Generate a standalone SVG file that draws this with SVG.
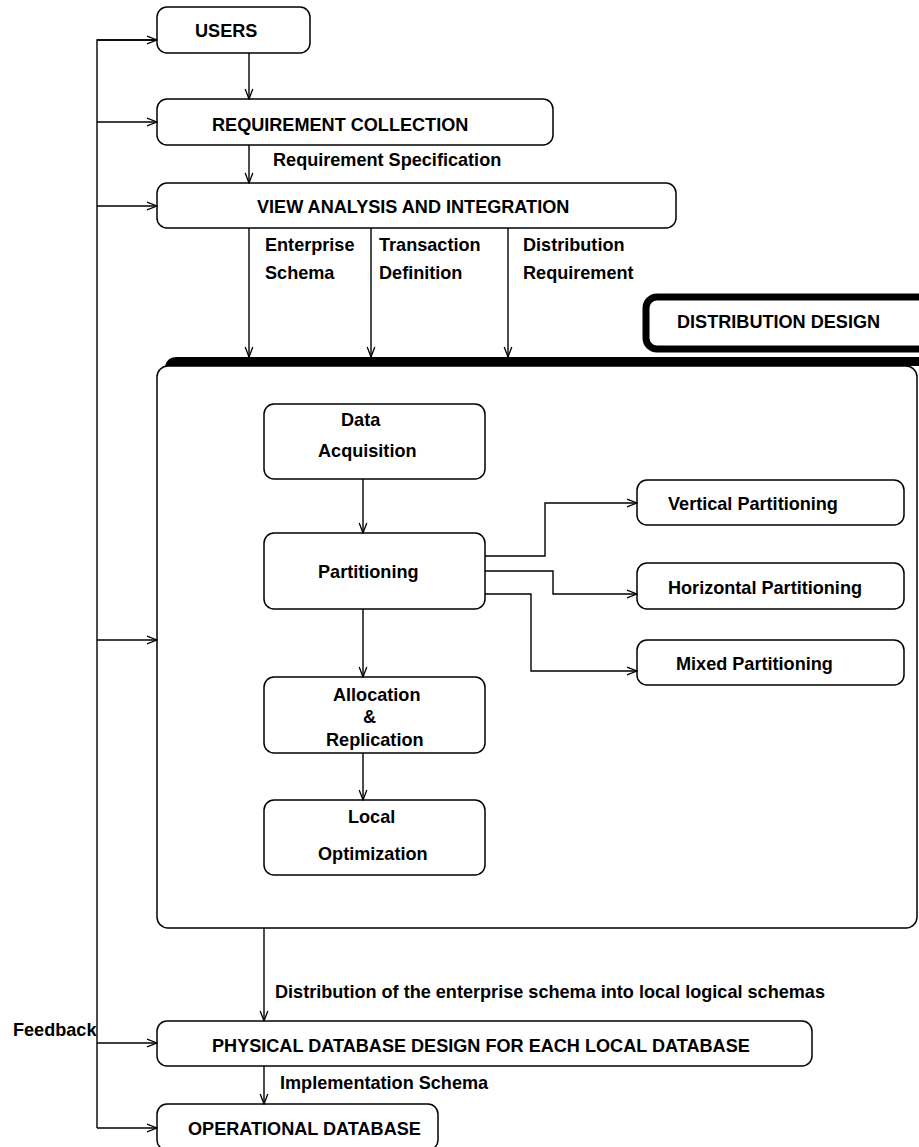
<svg xmlns="http://www.w3.org/2000/svg" width="919" height="1147" viewBox="0 0 919 1147">
<defs>
<marker id="arr" markerUnits="userSpaceOnUse" markerWidth="12" markerHeight="10" refX="11" refY="5" orient="auto">
<path d="M1,1.2 L11,5 L1,8.8" fill="none" stroke="#000" stroke-width="1.3"/>
</marker>
<style>
.box{fill:#fff;stroke:#000;stroke-width:1.5}
.t{font-family:"Liberation Sans",Arial,sans-serif;font-weight:bold;font-size:18.1px;fill:#000}
.c{fill:none;stroke:#000;stroke-width:1.4}
</style>
</defs>
<rect width="919" height="1147" fill="#fff"/>

<g id="distribution-design-frame">
<path d="M165,366 Q167,357 177,357 L919,357 L919,366 Z" fill="#000"/>
<rect class="box" x="157" y="366" width="760" height="562" rx="11"/>
</g>
<g id="distribution-design-label">
<rect x="646" y="297" width="300" height="52" rx="11" fill="#fff" stroke="#000" stroke-width="7"/>
<text class="t" x="677" y="328">DISTRIBUTION DESIGN</text>
</g>

<g id="users"><rect class="box" x="157" y="7" width="153" height="46" rx="10"/><text class="t" x="195" y="37">USERS</text></g>
<g id="requirement-collection"><rect class="box" x="157" y="99" width="396" height="46" rx="10"/><text class="t" x="212" y="131">REQUIREMENT COLLECTION</text></g>
<g id="view-analysis"><rect class="box" x="157" y="183" width="519" height="45" rx="10"/><text class="t" x="257" y="213">VIEW ANALYSIS AND INTEGRATION</text></g>

<g id="data-acquisition"><rect class="box" x="264" y="404" width="221" height="75" rx="10"/><text class="t" x="341" y="426">Data</text><text class="t" x="318" y="457">Acquisition</text></g>
<g id="partitioning"><rect class="box" x="264" y="533" width="221" height="76" rx="10"/><text class="t" x="318" y="578">Partitioning</text></g>
<g id="vertical-partitioning"><rect class="box" x="637" y="480" width="267" height="45" rx="10"/><text class="t" x="668" y="510">Vertical Partitioning</text></g>
<g id="horizontal-partitioning"><rect class="box" x="637" y="563" width="267" height="46" rx="10"/><text class="t" x="668" y="594">Horizontal Partitioning</text></g>
<g id="mixed-partitioning"><rect class="box" x="637" y="640" width="267" height="45" rx="10"/><text class="t" x="676" y="670">Mixed Partitioning</text></g>
<g id="allocation-replication"><rect class="box" x="264" y="677" width="221" height="76" rx="10"/><text class="t" x="333" y="701">Allocation</text><text class="t" x="363" y="723">&amp;</text><text class="t" x="326" y="746">Replication</text></g>
<g id="local-optimization"><rect class="box" x="264" y="800" width="221" height="75" rx="10"/><text class="t" x="348" y="823">Local</text><text class="t" x="318" y="860">Optimization</text></g>

<g id="physical-design"><rect class="box" x="157" y="1021" width="655" height="45" rx="10"/><text class="t" x="212" y="1052">PHYSICAL DATABASE DESIGN FOR EACH LOCAL DATABASE</text></g>
<g id="operational-database"><rect class="box" x="157" y="1104" width="281" height="46" rx="10"/><text class="t" x="188" y="1135">OPERATIONAL DATABASE</text></g>

<g id="connectors">
<line class="c" x1="249" y1="53" x2="249" y2="99" marker-end="url(#arr)"/>
<line class="c" x1="249" y1="145" x2="249" y2="183" marker-end="url(#arr)"/>
<line class="c" x1="249" y1="228" x2="249" y2="357" marker-end="url(#arr)"/>
<line class="c" x1="371" y1="228" x2="371" y2="357" marker-end="url(#arr)"/>
<line class="c" x1="508" y1="228" x2="508" y2="357" marker-end="url(#arr)"/>
<line class="c" x1="363" y1="479" x2="363" y2="533" marker-end="url(#arr)"/>
<line class="c" x1="363" y1="609" x2="363" y2="677" marker-end="url(#arr)"/>
<line class="c" x1="363" y1="753" x2="363" y2="800" marker-end="url(#arr)"/>
<polyline class="c" points="485,556 545,556 545,503 637,503" marker-end="url(#arr)"/>
<polyline class="c" points="485,571 553,571 553,594 637,594" marker-end="url(#arr)"/>
<polyline class="c" points="485,594 531,594 531,671 637,671" marker-end="url(#arr)"/>
<line class="c" x1="264" y1="928" x2="264" y2="1021" marker-end="url(#arr)"/>
<line class="c" x1="264" y1="1066" x2="264" y2="1104" marker-end="url(#arr)"/>
<polyline class="c" points="157,40 97,40 97,1128"/>
<line class="c" x1="97" y1="40" x2="157" y2="40" marker-end="url(#arr)"/>
<line class="c" x1="97" y1="122" x2="157" y2="122" marker-end="url(#arr)"/>
<line class="c" x1="97" y1="206" x2="157" y2="206" marker-end="url(#arr)"/>
<line class="c" x1="97" y1="640" x2="157" y2="640" marker-end="url(#arr)"/>
<line class="c" x1="97" y1="1043" x2="157" y2="1043" marker-end="url(#arr)"/>
<line class="c" x1="97" y1="1128" x2="157" y2="1128" marker-end="url(#arr)"/>
</g>

<g id="labels">
<text class="t" x="273" y="166">Requirement Specification</text>
<text class="t" x="265" y="251">Enterprise</text>
<text class="t" x="265" y="279">Schema</text>
<text class="t" x="379" y="251">Transaction</text>
<text class="t" x="379" y="279">Definition</text>
<text class="t" x="523" y="251">Distribution</text>
<text class="t" x="523" y="279">Requirement</text>
<text class="t" x="275" y="998">Distribution of the enterprise schema into local logical schemas</text>
<text class="t" x="13" y="1036">Feedback</text>
<text class="t" x="280" y="1089">Implementation Schema</text>
</g>
</svg>
